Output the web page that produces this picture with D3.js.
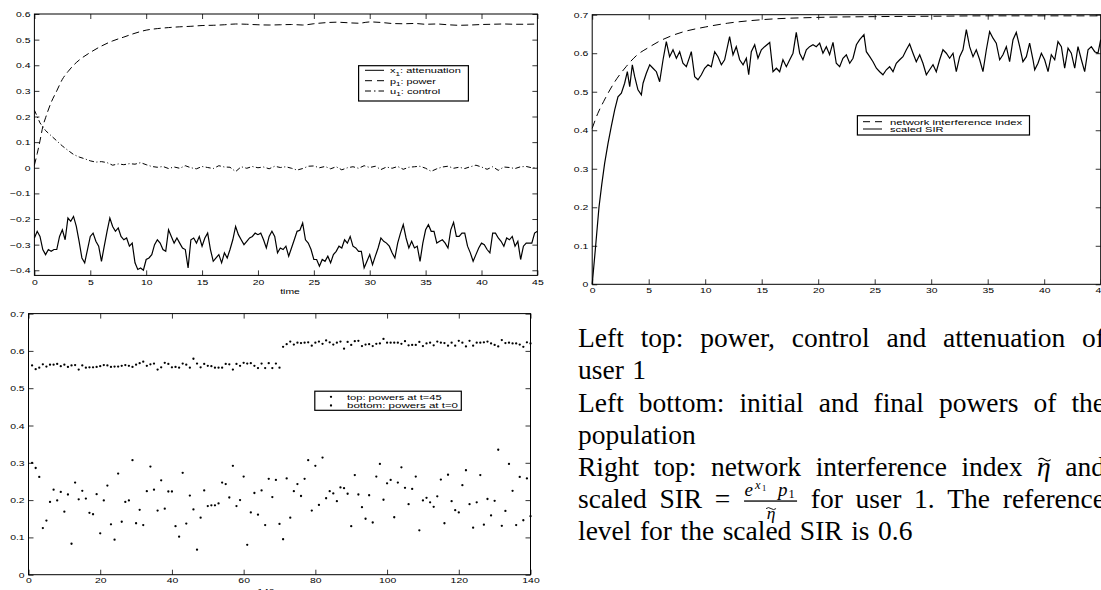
<!DOCTYPE html>
<html>
<head>
<meta charset="utf-8">
<title>power control</title>
<script src="https://cdn.jsdelivr.net/npm/d3@7"></script>
<style>
  body { margin: 0; background: #fff; }
  svg { display: block; }
</style>
</head>
<body>
<div id="chart"></div>
<script>

// ---- values ----

// left top: attenuation x1, sampled every 0.25 time units
var ATTN_DT = 0.25;
var attenuation = [
  -0.274,-0.248,-0.268,-0.319,-0.339,-0.319,-0.326,-0.319,-0.319,-0.268,
  -0.242,-0.281,-0.196,-0.209,-0.190,-0.229,-0.287,-0.352,-0.371,-0.319,
  -0.268,-0.255,-0.287,-0.306,-0.365,-0.306,-0.248,-0.196,-0.229,-0.248,
  -0.235,-0.268,-0.281,-0.274,-0.306,-0.294,-0.371,-0.397,-0.391,-0.400,
  -0.358,-0.352,-0.339,-0.300,-0.281,-0.294,-0.319,-0.326,-0.242,-0.268,
  -0.294,-0.274,-0.294,-0.313,-0.319,-0.391,-0.281,-0.274,-0.294,-0.268,
  -0.306,-0.274,-0.255,-0.319,-0.365,-0.352,-0.339,-0.371,-0.332,-0.352,
  -0.319,-0.281,-0.229,-0.261,-0.281,-0.300,-0.287,-0.274,-0.268,-0.255,
  -0.261,-0.255,-0.281,-0.313,-0.268,-0.248,-0.268,-0.332,-0.313,-0.319,
  -0.306,
  -0.345,-0.313,-0.281,-0.248,-0.244,-0.216,-0.281,-0.294,-0.319,-0.358,
  -0.358,-0.384,-0.358,-0.365,-0.345,-0.371,-0.339,-0.326,-0.306,-0.313,
  -0.281,-0.294,-0.268,-0.306,-0.313,-0.326,-0.326,-0.391,-0.365,-0.339,
  -0.378,-0.345,-0.313,-0.274,-0.287,-0.294,-0.306,-0.332,-0.352,-0.294,
  -0.255,-0.222,-0.274,-0.313,-0.287,-0.313,-0.306,-0.365,-0.294,-0.242,
  -0.222,-0.248,-0.248,-0.294,-0.287,-0.281,-0.294,-0.313,-0.242,-0.213,
  -0.268,-0.268,-0.255,-0.255,-0.306,-0.332,-0.365,-0.339,-0.313,-0.294,
  -0.300,-0.319,-0.332,-0.255,-0.255,-0.274,-0.287,-0.306,-0.274,-0.281,
  -0.268,-0.306,-0.287,-0.358,-0.306,-0.294,-0.294,-0.294,-0.255,-0.248
];

// left top: control u1, sampled every 0.5 time units
var CTRL_DT = 0.5;
var control = [
  0.225,0.175,0.145,0.125,0.105,0.085,0.068,0.052,0.042,0.035,
  0.027,0.022,0.024,0.020,0.010,0.015,0.012,0.016,0.014,0.020,
  0.012,0.005,0.002,0.005,-0.003,0.003,-0.002,0.008,0.000,-0.004,
  0.005,0.001,-0.003,0.008,0.003,0.002,-0.015,0.004,-0.002,0.005,
  0.000,0.003,-0.004,0.006,0.001,0.004,-0.002,-0.009,-0.003,0.006,
  0.007,0.000,0.005,-0.004,0.004,-0.008,0.000,0.004,-0.002,0.008,
  0.001,0.006,-0.007,0.003,-0.002,0.005,-0.006,0.002,0.004,0.006,
  -0.002,-0.014,-0.004,0.003,0.006,-0.002,0.002,-0.003,0.004,0.010,
  0.003,-0.006,0.004,-0.010,0.003,0.001,-0.003,0.004,0.005,0.000,
  0.000
];

// left top: power p1
var powerTime = [0,0.25,0.5,0.75,1,1.5,2,2.5,3,3.5,4,
  5,6,7,8,9,10,11,12,13,14,15,16,17,18,19,20,21,22,23,24,25,
  26,27,28,29,30,31,32,33,34,35,36,37,38,39,40,41,42,43,44,45];
var power = [0.01,0.055,0.105,0.16,0.195,0.255,0.30,0.345,0.375,0.40,0.42,
  0.45,0.475,0.495,0.51,0.525,0.537,0.543,0.547,0.550,0.552,0.555,0.556,0.558,0.561,0.560,
  0.558,0.557,0.558,0.559,0.557,0.562,0.566,0.568,0.566,0.564,0.569,0.567,0.563,0.562,
  0.563,0.560,0.561,0.558,0.556,0.557,0.559,0.560,0.561,0.560,0.560,0.561];

// right top: network interference index
var niiTime = [0,0.5,1,2,3,4,5,6,7,8,10,12,15,20,25,30,35,40,45];
var nii = [0.405,0.444,0.474,0.526,0.565,0.596,0.615,0.632,0.645,0.655,0.668,0.678,
  0.687,0.693,0.695,0.696,0.697,0.697,0.697];

// right top: scaled SIR
var sirTime = [0,0.3,0.6,0.85,1.10,1.40,1.69,1.99,2.28,2.58,
  2.87,3.11,3.32,3.55,3.76,4.05,4.35,4.50,4.79,5.09,
  5.38,5.68,5.97,6.27,6.56,6.85,7.15,7.45,7.74,8.03,
  8.33,8.63,8.77,9.07,9.36,9.66,9.95,10.25,10.54,10.84,
  11.13,11.43,11.72,12.16,12.46,12.75,13.05,13.35,13.64,13.85,
  14.08,14.38,14.67,14.97,15.26,15.71,16.00,16.30,16.59,16.88,
  17.18,17.48,17.77,18.06,18.36,18.65,18.95,19.24,19.54,19.83,
  20.13,20.42,20.72,21.01,21.31,21.60,21.90,22.19,22.49,22.79,
  23.08,23.38,23.67,24.05,24.26,24.56,24.85,25.15,25.44,25.73,
  26.03,26.32,26.62,26.91,27.21,27.50,27.80,28.09,28.39,28.68,
  28.98,29.27,29.57,29.86,30.16,30.45,30.75,31.04,31.34,31.63,
  31.93,32.22,32.52,32.81,33.11,33.40,33.70,33.99,34.29,34.58,
  34.88,35.17,35.47,35.76,36.06,36.35,36.65,36.94,37.24,37.53,
  37.83,38.12,38.42,38.71,39.01,39.16,39.45,39.75,40.04,40.34,
  40.63,40.93,41.22,41.52,41.81,42.11,42.40,42.70,42.99,43.29,
  43.58,43.88,44.17,44.47,44.76,45.0];
var sir = [0,0.098,0.20,0.26,0.314,0.366,0.41,0.453,0.487,0.496,
  0.522,0.552,0.513,0.57,0.539,0.505,0.492,0.522,0.548,0.57,
  0.561,0.552,0.526,0.583,0.63,0.591,0.609,0.587,0.604,0.574,
  0.565,0.591,0.604,0.539,0.531,0.544,0.561,0.57,0.565,0.604,
  0.591,0.57,0.583,0.643,0.596,0.617,0.583,0.57,0.587,0.544,
  0.604,0.622,0.587,0.609,0.617,0.628,0.552,0.561,0.552,0.583,
  0.565,0.583,0.60,0.654,0.60,0.583,0.609,0.617,0.622,0.617,
  0.626,0.60,0.617,0.596,0.628,0.574,0.565,0.587,0.596,0.574,
  0.587,0.622,0.635,0.648,0.604,0.591,0.578,0.561,0.552,0.544,
  0.557,0.565,0.552,0.574,0.583,0.591,0.609,0.624,0.60,0.578,
  0.596,0.574,0.544,0.557,0.57,0.552,0.583,0.609,0.60,0.587,
  0.60,0.552,0.591,0.609,0.661,0.617,0.591,0.609,0.583,0.552,
  0.609,0.656,0.639,0.626,0.583,0.596,0.617,0.578,0.635,0.654,
  0.617,0.578,0.591,0.626,0.583,0.557,0.574,0.60,0.583,0.552,
  0.596,0.583,0.63,0.617,0.561,0.613,0.60,0.561,0.617,0.583,
  0.552,0.609,0.617,0.604,0.60,0.635];

// left bottom: powers of the 140 users at t=45 (top) and t=0 (bottom)
var powersEnd = [
  0.561,0.551,0.555,0.564,0.558,0.563,0.563,0.565,0.559,0.563,
  0.557,0.561,0.562,0.550,0.561,0.555,0.556,0.556,0.557,0.559,
  0.562,0.561,0.557,0.558,0.558,0.560,0.562,0.560,0.557,0.563,
  0.567,0.571,0.560,0.564,0.566,0.550,0.556,0.568,0.565,0.556,
  0.557,0.555,0.566,0.563,0.555,0.579,0.566,0.556,0.565,0.560,
  0.559,0.555,0.555,0.555,0.565,0.564,0.550,0.565,0.560,0.568,
  0.566,0.567,0.560,0.554,0.566,0.554,0.567,0.554,0.566,0.555,
  0.611,0.618,0.625,0.617,0.622,0.621,0.622,0.623,0.614,0.622,
  0.625,0.619,0.628,0.623,0.617,0.622,0.625,0.606,0.624,0.616,
  0.626,0.627,0.613,0.617,0.618,0.613,0.619,0.620,0.632,0.622,
  0.622,0.622,0.622,0.619,0.626,0.615,0.616,0.616,0.624,0.613,
  0.620,0.622,0.615,0.625,0.622,0.621,0.614,0.622,0.614,0.627,
  0.622,0.612,0.627,0.614,0.622,0.622,0.623,0.625,0.620,0.616,
  0.612,0.629,0.621,0.622,0.620,0.620,0.617,0.611,0.623,0.620
];
var powersStart = [
  0.300,0.286,0.262,0.125,0.145,0.195,0.228,0.199,0.222,0.169,
  0.215,0.083,0.247,0.202,0.225,0.204,0.166,0.162,0.216,0.111,
  0.199,0.239,0.135,0.094,0.271,0.142,0.195,0.199,0.307,0.138,
  0.174,0.133,0.224,0.290,0.228,0.172,0.253,0.177,0.223,0.223,
  0.130,0.102,0.273,0.137,0.212,0.175,0.067,0.153,0.226,0.184,
  0.186,0.186,0.191,0.247,0.243,0.207,0.292,0.184,0.200,0.263,
  0.080,0.167,0.219,0.161,0.226,0.133,0.257,0.208,0.254,0.136,
  0.095,0.258,0.153,0.224,0.243,0.211,0.257,0.307,0.172,0.292,
  0.187,0.314,0.205,0.224,0.218,0.197,0.234,0.232,0.217,0.130,
  0.267,0.215,0.181,0.150,0.213,0.140,0.263,0.297,0.201,0.245,
  0.254,0.154,0.247,0.288,0.233,0.189,0.230,0.263,0.119,0.199,
  0.206,0.194,0.182,0.210,0.255,0.138,0.268,0.197,0.173,0.167,
  0.240,0.280,0.189,0.126,0.194,0.267,0.134,0.203,0.159,0.198,
  0.335,0.131,0.171,0.297,0.225,0.133,0.262,0.146,0.258,0.157
];

var ticksTime = [0,5,10,15,20,25,30,35,40,45];
var ticksAtt = [-0.4,-0.3,-0.2,-0.1,0,0.1,0.2,0.3,0.4,0.5,0.6];
var ticks07 = [0,0.1,0.2,0.3,0.4,0.5,0.6,0.7];
var ticksUsers = [0,20,40,60,80,100,120,140];

var noteLines = [
  { words: ["Left", "top:", "power,", "control", "and", "attenuation", "of"], justify: true },
  { words: ["user", "1"], justify: false },
  { words: ["Left", "bottom:", "initial", "and", "final", "powers", "of", "the"], justify: true },
  { words: ["population"], justify: false },
  { words: ["Right", "top:", "network", "interference", "index", "{eta}", "and"], justify: true },
  { words: ["scaled", "SIR", "=", "{frac}", "for", "user", "1.", "The", "reference"], justify: true },
  { words: ["level", "for", "the", "scaled", "SIR", "is", "0.6"], justify: false }
];


// ---- drawing ----

var SANS = '"Liberation Sans", Arial, Helvetica, sans-serif';
var SERIF = '"Liberation Serif", "Times New Roman", serif';
var STRETCH = 1.3;   // the small labels of the figure are wide
var TICK = 5;

var svg = d3.select("#chart").append("svg")
            .attr("width", 1101)
            .attr("height", 590);

svg.append("rect").attr("width", 1101).attr("height", 590).attr("fill", "#fff");


function makePanel(box, xDom, yDom, xTicks, yTicks, xPad)
{
    var x = d3.scaleLinear().domain(xDom).range([box.left, box.right]);
    var y = d3.scaleLinear().domain(yDom).range([box.bottom, box.top]);
    var fmt = d3.format("");
    var g = svg.append("g");

    g.append("g").attr("transform", "translate(0," + box.bottom + ")")
     .call(d3.axisBottom(x).tickValues(xTicks).tickSize(-TICK).tickPadding(xPad).tickFormat(fmt));
    g.append("g").attr("transform", "translate(0," + box.top + ")")
     .call(d3.axisTop(x).tickValues(xTicks).tickSize(-TICK).tickFormat(""));
    g.append("g").attr("transform", "translate(" + box.left + ",0)")
     .call(d3.axisLeft(y).tickValues(yTicks).tickSize(-TICK).tickPadding(3).tickFormat(fmt));
    g.append("g").attr("transform", "translate(" + box.right + ",0)")
     .call(d3.axisRight(y).tickValues(yTicks).tickSize(-TICK).tickFormat(""));

    g.selectAll(".domain").remove();
    g.selectAll(".tick line").attr("stroke", "#000").attr("stroke-width", 0.8);
    g.selectAll(".tick text")
     .attr("fill", "#000")
     .attr("font-family", SANS)
     .attr("font-size", 8)
     .attr("transform", "scale(" + STRETCH + ",1)");

    return { x: x, y: y, box: box, g: svg.append("g") };
}

function drawFrame(p)
{
    svg.append("rect")
       .attr("x", p.box.left).attr("y", p.box.top)
       .attr("width", p.box.right - p.box.left)
       .attr("height", p.box.bottom - p.box.top)
       .attr("fill", "none").attr("stroke", "#000").attr("stroke-width", 1);
}

function smallLabel(x, y, str, anchor)
{
    svg.append("text")
       .attr("transform", "translate(" + x + "," + y + ") scale(" + STRETCH + ",1)")
       .attr("text-anchor", anchor || "middle")
       .attr("font-family", SANS).attr("font-size", 8).attr("fill", "#000")
       .text(str);
}

// legend text squeezed/stretched to the width it has in the figure
function legendText(x, y, width, main, sub, rest)
{
    var t = svg.append("text").attr("font-family", SANS).attr("font-size", 8).attr("fill", "#000");
    t.append("tspan").text(main);
    if (sub) {
        t.append("tspan").attr("font-size", 6).attr("dy", 2.5).text(sub);
        t.append("tspan").attr("dy", -2.5).text(rest);
    }
    var w = t.node().getBBox().width;
    t.attr("transform", "translate(" + x + "," + y + ") scale(" + (width / w) + ",1)");
}

function legendBox(x0, y0, x1, y1)
{
    svg.append("rect")
       .attr("x", x0).attr("y", y0).attr("width", x1 - x0).attr("height", y1 - y0)
       .attr("fill", "#fff").attr("stroke", "#000").attr("stroke-width", 1.2);
}

function sampleLine(x0, x1, y, dash, width)
{
    svg.append("line")
       .attr("x1", x0).attr("x2", x1).attr("y1", y).attr("y2", y)
       .attr("stroke", "#000").attr("stroke-width", width || 1)
       .attr("stroke-dasharray", dash);
}


// left top panel
var A = makePanel({ left: 34.4, right: 537.4, top: 14, bottom: 275.4 },
                  [0, 45], [-0.42, 0.6], ticksTime, ticksAtt, 3.9);

var lineA = d3.line().x(function(d) { return A.x(d[0]); }).y(function(d) { return A.y(d[1]); });

A.g.append("path")
   .datum(attenuation.map(function(v, i) { return [i * ATTN_DT, v]; }))
   .attr("d", lineA)
   .attr("fill", "none").attr("stroke", "#000").attr("stroke-width", 1.2);

A.g.append("path")
   .datum(power.map(function(v, i) { return [powerTime[i], v]; }))
   .attr("d", lineA.curve(d3.curveMonotoneX))
   .attr("fill", "none").attr("stroke", "#000").attr("stroke-width", 1)
   .attr("stroke-dasharray", "7,4");
lineA.curve(d3.curveLinear);

A.g.append("path")
   .datum(control.map(function(v, i) { return [i * CTRL_DT, v]; }))
   .attr("d", lineA)
   .attr("fill", "none").attr("stroke", "#000").attr("stroke-width", 1)
   .attr("stroke-dasharray", "5,2.5,1,2.5");

drawFrame(A);
smallLabel(290, 294, "time");

legendBox(358.6, 65.7, 468.4, 101);
sampleLine(365, 384, 70.3, null);
sampleLine(365, 384, 80.7, "7,5");
sampleLine(365, 384, 91, "6,3,1.5,3");
legendText(390, 73.2, 71, "x", "1", ": attenuation");
legendText(390, 83.6, 46.5, "p", "1", ": power");
legendText(390, 93.9, 50.5, "u", "1", ": control");


// right top panel
var B = makePanel({ left: 592.2, right: 1100.7, top: 14.7, bottom: 284.3 },
                  [0, 45], [0, 0.7], ticksTime, ticks07, 3.3);

var lineB = d3.line().x(function(d) { return B.x(d[0]); }).y(function(d) { return B.y(d[1]); });

B.g.append("path")
   .datum(nii.map(function(v, i) { return [niiTime[i], v]; }))
   .attr("d", lineB.curve(d3.curveMonotoneX))
   .attr("fill", "none").attr("stroke", "#000").attr("stroke-width", 1)
   .attr("stroke-dasharray", "8,5");
lineB.curve(d3.curveLinear);

B.g.append("path")
   .datum(sir.map(function(v, i) { return [sirTime[i], v]; }))
   .attr("d", lineB)
   .attr("fill", "none").attr("stroke", "#000").attr("stroke-width", 1.2);

drawFrame(B);

legendBox(857.4, 115.7, 1029.5, 135);
sampleLine(863, 882, 121.7, "7,5");
sampleLine(863, 882, 129, null);
legendText(890, 124.5, 132.5, "network interference index");
legendText(890, 131.9, 54, "scaled SIR");


// left bottom panel
var C = makePanel({ left: 28.5, right: 530.5, top: 313.6, bottom: 574.7 },
                  [0, 140], [0, 0.7], ticksUsers, ticks07, 2.9);

C.g.selectAll(".end")
   .data(powersEnd)
   .enter().append("circle")
   .attr("class", "end")
   .attr("cx", function(d, i) { return C.x(i + 1); })
   .attr("cy", function(d) { return C.y(d); })
   .attr("r", 1.15)
   .attr("fill", "#000");

C.g.selectAll(".start")
   .data(powersStart)
   .enter().append("circle")
   .attr("class", "start")
   .attr("cx", function(d, i) { return C.x(i + 1); })
   .attr("cy", function(d) { return C.y(d); })
   .attr("r", 1.15)
   .attr("fill", "#000");

drawFrame(C);
smallLabel(280, 593.5, "140 users");

legendBox(314.8, 391.2, 461.3, 410.3);
svg.append("circle").attr("cx", 331).attr("cy", 396.8).attr("r", 1.15).attr("fill", "#000");
svg.append("circle").attr("cx", 331).attr("cy", 405.5).attr("r", 1.15).attr("fill", "#000");
legendText(347, 399.6, 95.5, "top: powers at t=45");
legendText(347, 408.3, 112, "bottom: powers at t=0");


// notes on the right, set like the justified LaTeX paragraph
var NOTE = { left: 578, right: 1105, first: 347.3, lead: 32.1, size: 27.5, space: 8.5 };

function tildePath(x0, y0, w, h)
{
    return "M" + x0 + "," + y0 +
           " Q" + (x0 + w / 4) + "," + (y0 - h) + " " + (x0 + w / 2) + "," + y0 +
           " T" + (x0 + w) + "," + y0;
}

function buildToken(g, word)
{
    if (word === "{eta}") {
        var e = g.append("text").attr("font-style", "italic").text("\u03B7");
        var we = e.node().getComputedTextLength();
        g.append("path").attr("d", tildePath(we * 0.1, -16, we * 0.9, 2.6))
         .attr("fill", "none").attr("stroke", "#000").attr("stroke-width", 1.1);
        return we;
    }
    if (word === "{frac}") {
        // e^{x_1} p_1 over eta-tilde
        g.append("rect").attr("x", 1).attr("y", -7.4).attr("width", 53).attr("height", 1.3).attr("fill", "#000");
        g.append("text").attr("x", 1.5).attr("y", -12).attr("font-size", 19).attr("font-style", "italic").text("e");
        g.append("text").attr("x", 12).attr("y", -19).attr("font-size", 12.5).attr("font-style", "italic").text("x");
        g.append("text").attr("x", 19).attr("y", -17).attr("font-size", 8.5).text("1");
        g.append("text").attr("x", 35).attr("y", -12).attr("font-size", 19).attr("font-style", "italic").text("p");
        g.append("text").attr("x", 45.5).attr("y", -9.5).attr("font-size", 12.5).text("1");
        g.append("text").attr("x", 28).attr("y", 11).attr("font-size", 17.5).attr("font-style", "italic")
         .attr("text-anchor", "middle").text("\u03B7");
        g.append("path").attr("d", tildePath(23, 0.8, 10, 2))
         .attr("fill", "none").attr("stroke", "#000").attr("stroke-width", 0.9);
        return 55;
    }
    var t = g.append("text").text(word);
    return t.node().getComputedTextLength();
}

noteLines.forEach(function(line, k) {
    var y = NOTE.first + k * NOTE.lead;
    var groups = [];
    var widths = [];
    line.words.forEach(function(w) {
        var g = svg.append("g")
                   .attr("font-family", SERIF)
                   .attr("font-size", NOTE.size)
                   .attr("fill", "#000");
        widths.push(buildToken(g, w));
        groups.push(g);
    });
    var total = d3.sum(widths);
    var gap = NOTE.space;
    if (line.justify && groups.length > 1) {
        gap = (NOTE.right - NOTE.left - total) / (groups.length - 1);
    }
    var x = NOTE.left;
    groups.forEach(function(g, i) {
        g.attr("transform", "translate(" + x + "," + y + ")");
        x += widths[i] + gap;
    });
});

</script>
</body>
</html>
